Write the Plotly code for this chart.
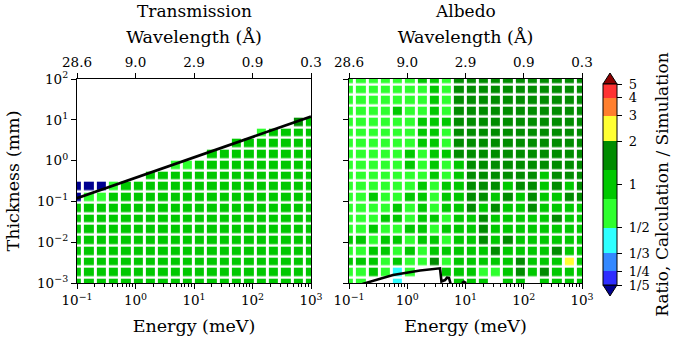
import numpy as np
import plotly.graph_objects as go

# ---------------- data ----------------
energy_meV = np.logspace(-1, 3, 20)      # grid columns (cell centres)
thickness_mm = np.logspace(-3, 2, 20)    # grid rows (cell centres)

# ratio category (see ratio_of_code); rows listed top (100 mm) -> bottom (1e-3 mm)
ratio_of_code = {"B": 0.15, "C": 0.40, "L": 0.63, "G": 1.00, "D": 1.55, "Y": 2.40, ".": None}

transmission_codes = [
    "....................",
    "....................",
    "....................",
    "....................",
    "..................DG",
    "...............LGGGG",
    ".............GGGGGGG",
    "...........GGGGGGGGG",
    "........LLGGGGGGGGGG",
    "......GGGGGGGGGGGGGG",
    "BBBLGGGGGGGGGGGGGGGG",
    "BLLGGGGGGGGGGGGGGGGG",
    "GGGGGGGGGGGGGGGGGGGG",
    "GGGGGGGGGGGGGGGGGGGG",
    "GGGGGGGGGGGGGGGGGGGG",
    "GGGGGGGGGGGGGGGGGGGG",
    "GGGGGGGGGGGGGGGGGGGG",
    "GGGGGGGGGGGGGGGGGGGG",
    "GGGGGGGGGGGGGGGGGGGG",
    "GGGGGGGGGGGGGGGGGGGG",
]

albedo_codes = [
    "LLLLLLGGLDDDDDDDDDDD",
    "LLLLLLLGLDDDDDDDDDDD",
    "LLLLLLLGLDDDDDDDDDDD",
    "LLLLGLLGLDDDDDDDDDDD",
    "LLLLLLGGGDDDDDDDDDDD",
    "LLLLLLGGLDDDDDDDDDDD",
    "LLLLLLGGLDDDDDDDDDDD",
    "LLLLLGLGGDDDDDDDDDDD",
    "LLLLLGLGLGDDDDDDDDDD",
    "LLLLLLLGLGDDDDDDGDDD",
    "LLLLLLGLGGDDDGDDGDGD",
    "LLGLLGGLGGDDGDGDGGDD",
    "LLLLGLGLGGDGDGGDGGGG",
    "LLLGGLGGLGGDGGGGGDGG",
    "LLGLLGGLGGGDGGGGGGGG",
    "GGLGGLGGLGGDGDGGGGGG",
    "LLGGLGLGGGGGDGGGGDGG",
    "GGGLGLLDLGGGGGDGGGYG",
    "LLGLCL..GGGLLGDGDGGG",
    "LL..C....GGG.GG.GGGG",
]

# boundary curves
trans_limit_E = [0.1, 1000.0]
trans_limit_T = [0.12, 12.0]
albedo_limit_E = [0.17, 0.57, 1.66, 3.65, 3.87, 4.45, 4.81, 5.21, 5.53, None, 8.7, 9.4, 10.3]
albedo_limit_T = [0.95e-3, 1.57e-3, 2.02e-3, 2.29e-3, 1.09e-3, 1.18e-3, 1.35e-3, 1.33e-3, 0.97e-3,
                  None, 0.99e-3, 1.07e-3, 0.99e-3]

# colour levels
level_bounds = [1/5, 1/4, 1/3, 1/2, 2 ** (-1 / 3), 2 ** (1 / 3), 2, 3, 4, 5]
level_colors = ["#2e2eff", "#3388ff", "#2effff", "#2eff2e", "#00c800", "#008c00",
                "#ffff33", "#ff7f2e", "#ff3333"]
under_color = "#000090"
over_color = "#8b0000"
cbar_tick_vals = [1/5, 1/4, 1/3, 1/2, 1, 2, 3, 4, 5]
cbar_tick_text = ["1/5", "1/4", "1/3", "1/2", "1", "2", "3", "4", "5"]

energy_ticks = [0.1, 1, 10, 100, 1000]
energy_ticktext = ["10<sup>−1</sup>", "10<sup>0</sup>", "10<sup>1</sup>", "10<sup>2</sup>", "10<sup>3</sup>"]
thick_ticks = [1e-3, 1e-2, 1e-1, 1, 10, 100]
thick_ticktext = ["10<sup>−3</sup>", "10<sup>−2</sup>", "10<sup>−1</sup>", "10<sup>0</sup>",
                  "10<sup>1</sup>", "10<sup>2</sup>"]
wavelength_text = ["%.1f" % (9.045 / np.sqrt(e)) for e in energy_ticks]

# ---------------- build ----------------
FONT = "DejaVu Serif"


def edges(centres):
    lc = np.log10(centres)
    d = lc[1] - lc[0]
    return list(10 ** np.concatenate([[lc[0] - d / 2], (lc[:-1] + lc[1:]) / 2, [lc[-1] + d / 2]]))


xe = edges(energy_meV)
ye = edges(thickness_mm)


def grids(codes):
    rows = codes[::-1]
    z, zu = [], []
    for r in rows:
        zr, zur = [], []
        for ch in r:
            v = ratio_of_code[ch]
            if ch == "B":
                zr.append(None)
                zur.append(1)
            else:
                zr.append(None if v is None else float(np.log10(v)))
                zur.append(None)
        z.append(zr)
        zu.append(zur)
    return z, zu


zmin, zmax = np.log10(level_bounds[0]), np.log10(level_bounds[-1])
cs = []
for k, c in enumerate(level_colors):
    p0 = (np.log10(level_bounds[k]) - zmin) / (zmax - zmin)
    p1 = (np.log10(level_bounds[k + 1]) - zmin) / (zmax - zmin)
    cs += [[max(0, min(1, p0)), c], [max(0, min(1, p1)), c]]

W, H = 685, 339
L1, R1, L2, R2 = 77, 311, 349, 582
TOP, BOT = 79, 283
xd1 = [L1 / W, R1 / W]
xd2 = [L2 / W, R2 / W]
yd = [1 - BOT / H, 1 - TOP / H]

fig = go.Figure()
for panel, codes, xa, ya in [("T", transmission_codes, "x", "y"), ("A", albedo_codes, "x2", "y2")]:
    z, zu = grids(codes)
    fig.add_trace(go.Heatmap(
        x=xe, y=ye, z=z, zmin=zmin, zmax=zmax, colorscale=cs, xgap=3, ygap=2.5,
        xaxis=xa, yaxis=ya, hoverongaps=False,
        showscale=(panel == "A"),
        colorbar=dict(
            x=603 / W, xanchor="left", xpad=0, ypad=0,
            y=1 - 184.5 / H, yanchor="middle", lenmode="pixels", len=201, thickness=14,
            outlinecolor="black", outlinewidth=1,
            tickvals=[float(np.log10(v)) for v in cbar_tick_vals],
            ticktext=[" " + t for t in cbar_tick_text],
            ticks="outside", ticklen=5, tickcolor="black",
            tickfont=dict(family=FONT, size=13, color="black"),
            title=dict(text="Ratio, Calculation / Simulation", side="right",
                       font=dict(family=FONT, size=17, color="black")),
        ),
    ))
    if any("B" in r for r in codes):
        fig.add_trace(go.Heatmap(
            x=xe, y=ye, z=zu, zmin=0, zmax=1, colorscale=[[0, under_color], [1, under_color]],
            xgap=3, ygap=2.5, showscale=False, xaxis=xa, yaxis=ya, hoverongaps=False))

fig.add_trace(go.Scatter(x=trans_limit_E, y=trans_limit_T, mode="lines",
                         line=dict(color="black", width=2.6), xaxis="x", yaxis="y", showlegend=False))
fig.add_trace(go.Scatter(x=albedo_limit_E, y=albedo_limit_T, mode="lines",
                         line=dict(color="black", width=2.6), xaxis="x2", yaxis="y2", showlegend=False))
# anchors for the wavelength (top) axes
for xa, ya in [("x3", "y"), ("x4", "y2")]:
    fig.add_trace(go.Scatter(x=[1], y=[1], mode="markers", marker=dict(opacity=0),
                             xaxis=xa, yaxis=ya, showlegend=False, hoverinfo="skip"))

tickfont = dict(family=FONT, size=13.5, color="black")
titlefont = dict(family=FONT, size=17.5, color="black")
common = dict(showline=True, linecolor="black", linewidth=1.3, ticks="outside", ticklen=5,
              tickwidth=1.3, tickcolor="black", showgrid=False, zeroline=False, tickfont=tickfont)
minor_vals = [m * 10.0 ** k for k in range(-1, 3) for m in range(2, 10)]
xbottom = dict(common, type="log", range=[-1, 3], tickvals=energy_ticks, ticktext=energy_ticktext,
               mirror=True,
               minor=dict(ticks="outside", ticklen=3, tickwidth=1, tickcolor="black",
                          tickvals=minor_vals, showgrid=False),
               title=dict(text="Energy (meV)", font=titlefont, standoff=12))
xtop = dict(common, type="log", range=[-1, 3], tickvals=energy_ticks, ticktext=wavelength_text,
            side="top", title=dict(text="Wavelength (Å)", font=titlefont, standoff=6))
yleft = dict(common, type="log", range=[-3, 2], tickvals=thick_ticks, mirror=True, domain=yd)

fig.update_layout(
    width=W, height=H, template="none",
    margin=dict(l=0, r=0, t=0, b=0, autoexpand=False),
    paper_bgcolor="white", plot_bgcolor="white", showlegend=False,
    xaxis=dict(xbottom, domain=xd1, anchor="y"),
    xaxis2=dict(xbottom, domain=xd2, anchor="y2"),
    xaxis3=dict(xtop, overlaying="x", anchor="y"),
    xaxis4=dict(xtop, overlaying="x2", anchor="y2"),
    yaxis=dict(yleft, anchor="x", ticktext=thick_ticktext,
               title=dict(text="Thickness (mm)", font=titlefont, standoff=12)),
    yaxis2=dict(yleft, anchor="x2", showticklabels=False),
    annotations=[
        dict(text="Transmission", x=(L1 + R1) / 2 / W, y=1 - 11 / H, xref="paper", yref="paper",
             xanchor="center", yanchor="middle",
             showarrow=False, font=dict(family=FONT, size=17, color="black")),
        dict(text="Albedo", x=(L2 + R2) / 2 / W, y=1 - 11 / H, xref="paper", yref="paper",
             xanchor="center", yanchor="middle",
             showarrow=False, font=dict(family=FONT, size=17, color="black")),
    ],
    shapes=[
        dict(type="path", xref="paper", yref="paper",
             path="M %f,%f L %f,%f L %f,%f Z" % (603 / W, 1 - 84 / H, 617 / W, 1 - 84 / H, 610 / W, 1 - 73 / H),
             fillcolor=over_color, line=dict(color="black", width=1)),
        dict(type="path", xref="paper", yref="paper",
             path="M %f,%f L %f,%f L %f,%f Z" % (603 / W, 1 - 285 / H, 617 / W, 1 - 285 / H, 610 / W, 1 - 296 / H),
             fillcolor=under_color, line=dict(color="black", width=1)),
    ],
)

fig.write_html("out.html", config={"displayModeBar": False},
               post_script="document.body.style.margin='0';document.body.style.overflow='hidden';")
